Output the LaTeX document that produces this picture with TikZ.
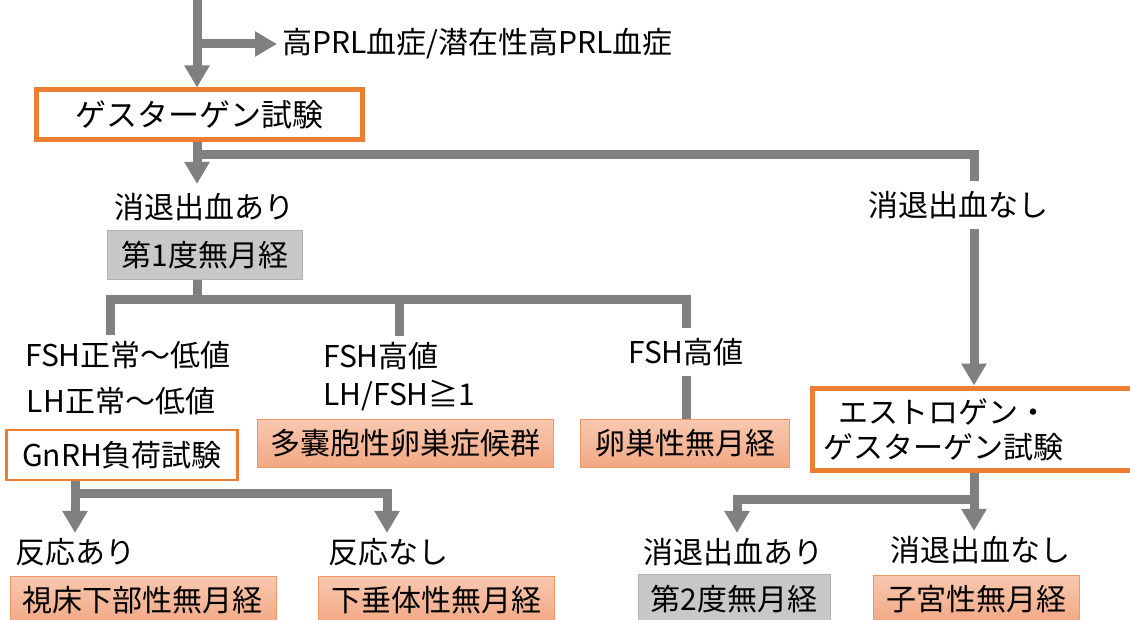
\documentclass[tikz,border=0pt]{standalone}
\usepackage{fontspec}
\setmainfont{Noto Sans CJK JP}
\usetikzlibrary{arrows.meta}
\definecolor{lineg}{RGB}{128,128,128}
\definecolor{orng}{RGB}{237,125,49}
\definecolor{pinkT}{RGB}{248,200,176}
\definecolor{pinkB}{RGB}{242,168,132}
\definecolor{pinkD}{RGB}{240,150,100}
\definecolor{grayF}{RGB}{200,200,200}
\definecolor{grayD}{RGB}{178,178,178}
\begin{document}
\begin{tikzpicture}[x=1pt,y=-1pt,
  txt/.style={font=\fontsize{30}{36}\selectfont, inner sep=0pt, text=black},
  lab/.style={txt, fill=white, inner ysep=6pt, inner xsep=2pt},
  conn/.style={draw=lineg, line width=9pt},
  arr/.style={conn, -{Triangle[width=24pt,length=22pt]}},
  obox/.style={txt, draw=orng, line width=5pt, fill=white},
  othin/.style={txt, draw=orng, line width=2.5pt, fill=white},
  pbox/.style={txt, draw=pinkD, line width=1pt, top color=pinkT, bottom color=pinkB, minimum height=48pt},
  gbox/.style={txt, draw=grayD, line width=1pt, fill=grayF, minimum height=49pt},
]
\useasboundingbox (0,0) rectangle (1130,620);

% ---- top part
\coordinate (top) at (197,0);
\node[txt, anchor=west] (prl) at (282,44) {高PRL血症/潜在性高PRL血症};
\node[obox, minimum width=326pt, minimum height=50pt, font=\fontsize{31}{36}\selectfont] (gest) at (199,115) {ゲスターゲン試験};

\node[txt] (ari1) at (204,207) {消退出血あり};
\node[gbox, minimum width=195pt] (deg1) at (205,255) {第1度無月経};
\node[lab, inner ysep=10pt] (nashi1) at (958,205) {消退出血なし};

\node[obox, minimum width=330pt, minimum height=82pt] (eg) at (977,429) {};
\node[txt, align=center, font=\fontsize{30}{35}\selectfont] (egt) at (943,430) {エストロゲン・\\ゲスターゲン試験};

% ---- second level
\node[lab] (fsh1) at (128,355) {FSH正常～低値};
\node[txt] (lh1) at (121,401) {LH正常～低値};
\node[othin, minimum width=231pt, minimum height=50pt] (gnrh) at (122,455) {GnRH負荷試験};

\node[txt, align=left, anchor=west, font=\fontsize{30}{38}\selectfont] (pcoslab) at (323,377) {FSH高値\\LH/FSH≧1};
\node[pbox, minimum width=296pt] (pcos) at (405,443) {多嚢胞性卵巣症候群};

\node[lab, inner ysep=10pt] (fsh3) at (686,352) {FSH高値};
\node[pbox, minimum width=209pt] (ovar) at (685,443) {卵巣性無月経};

% ---- bottom level
\node[txt] (hari) at (76,552) {反応あり};
\node[txt] (hnashi) at (388,552) {反応なし};
\node[pbox, minimum width=266pt] (hypo) at (143,600) {視床下部性無月経};
\node[pbox, minimum width=236pt] (pit) at (436,600) {下垂体性無月経};

\node[txt] (ari2) at (733,552) {消退出血あり};
\node[txt] (nashi2) at (980,550) {消退出血なし};
\node[gbox, minimum width=192pt] (deg2) at (734,599) {第2度無月経};
\node[pbox, minimum width=206pt] (uter) at (976,599) {子宮性無月経};

% ---- connectors
\coordinate (j0) at (197,44);
\coordinate (j1) at (197,155);
\coordinate (r1) at (974,155);
\draw[arr] (top) -- (gest.north -| top);
\draw[arr] (j0) -- ([xshift=-5pt]prl.west);
\draw[conn] (gest.south -| j1) -- (j1) -- (r1) -- (nashi1.north -| r1);
\draw[arr] (j1) -- ([yshift=9pt]ari1.north -| j1);
\draw[arr] (nashi1.south -| r1) -- (eg.north -| r1);

\coordinate (j2) at (197,300);
\coordinate (b1) at (110,300);
\coordinate (b2) at (399,300);
\coordinate (b3) at (686,300);
\draw[conn] (deg1.south -| j2) -- (j2);
\draw[conn] (fsh1.north -| b1) -- (b1) -- (b3) -- (fsh3.north -| b3);
\draw[conn] (b2) -- ([yshift=6pt]pcoslab.north -| b2);
\draw[conn] (fsh3.south -| b3) -- (ovar.north -| b3);

\coordinate (j3) at (75,493);
\coordinate (j4) at (387,493);
\draw[arr] (gnrh.south -| j3) -- ([yshift=5pt]hari.north -| j3);
\draw[arr] (j3) -- (j4) -- ([yshift=5pt]hnashi.north -| j4);

\coordinate (j5) at (974,499);
\coordinate (j6) at (737,499);
\draw[arr] (eg.south -| j5) -- ([yshift=5pt]nashi2.north -| j5);
\draw[arr] (j5) -- (j6) -- ([yshift=5pt]ari2.north -| j6);
\end{tikzpicture}
\end{document}
